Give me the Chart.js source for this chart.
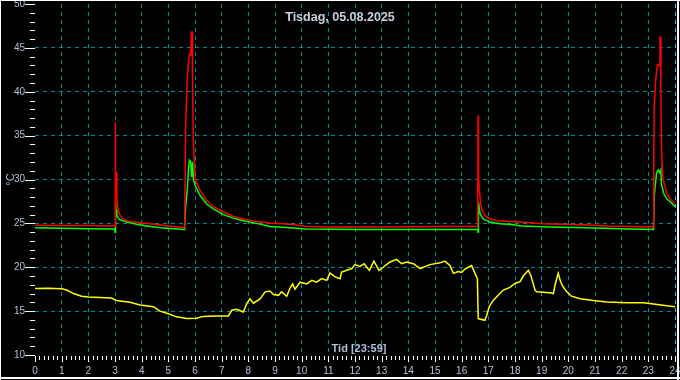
<!DOCTYPE html>
<html>
<head>
<meta charset="utf-8">
<script src="https://cdn.jsdelivr.net/npm/chart.js@4"></script>
<style>
  html, body { margin: 0; padding: 0; background: #000; }
  #wrap { width: 680px; height: 380px; position: relative; }
  canvas { display: block; }
</style>
</head>
<body>
<div id="wrap"><canvas id="c" width="680" height="380"></canvas></div>
<script>
// ---------- data ----------
const chartTitle = 'Tisdag, 05.08.2025';
const xAxisTitle = 'Tid [23:59]';
const yAxisTitle = '°C';
const xMin = 0, xMax = 24, xStep = 1;
const yMin = 10, yMax = 50, yStep = 5;

const redTime = [0, 1, 2, 2.99, 3.005, 3.012, 3.02, 3.05, 3.07, 3.12, 3.19, 3.31, 3.56, 3.94, 4.31, 4.81, 5.31, 5.61, 5.62, 5.65, 5.69, 5.71, 5.75, 5.79, 5.84, 5.865, 5.895, 5.91, 5.94, 5.97, 6.01, 6.19, 6.44, 6.69, 7.06, 7.44, 7.81, 8.31, 8.81, 9.56, 10.19, 11, 13, 15.2, 16.6, 16.615, 16.625, 16.64, 16.66, 16.71, 16.77, 16.87, 17.06, 17.31, 18.19, 19.06, 20.56, 21.44, 23.19, 23.205, 23.22, 23.27, 23.31, 23.35, 23.41, 23.435, 23.46, 23.47, 23.5, 23.53, 23.58, 23.69, 23.81, 24];
const redTemp = [24.8, 24.75, 24.75, 24.7, 24.7, 36.5, 30.8, 30.8, 28.0, 26.5, 25.9, 25.45, 25.2, 25.07, 24.97, 24.8, 24.6, 24.5, 26.6, 36.2, 39.9, 41.4, 43.1, 44.3, 44.2, 46.8, 46.8, 40.5, 34.1, 32.2, 30.0, 28.75, 27.6, 26.9, 26.3, 25.8, 25.5, 25.2, 25.03, 24.9, 24.65, 24.6, 24.6, 24.65, 24.65, 37.3, 35.6, 30.5, 28.9, 27.2, 26.5, 25.9, 25.5, 25.3, 25.15, 24.97, 24.85, 24.7, 24.6, 33.7, 38.3, 41.05, 42.45, 43.1, 42.95, 46.2, 46.2, 39.7, 33.3, 30.7, 29.7, 28.4, 27.8, 27.2];

const greenTime = [0, 1, 2, 2.99, 3.0, 3.02, 3.04, 3.07, 3.16, 3.44, 3.81, 4.19, 4.69, 5.19, 5.61, 5.65, 5.71, 5.75, 5.79, 5.84, 5.87, 5.91, 5.94, 6.0, 6.19, 6.44, 6.69, 7.06, 7.44, 7.81, 8.31, 8.81, 9.56, 10.19, 12, 16.6, 16.615, 16.63, 16.69, 16.81, 17.06, 17.44, 17.87, 18.25, 19.31, 20.69, 21.94, 23.19, 23.22, 23.31, 23.37, 23.43, 23.47, 23.49, 23.58, 23.69, 23.81, 24];
const greenTemp = [24.5, 24.45, 24.4, 24.35, 24.0, 27.6, 26.5, 25.9, 25.45, 25.15, 24.9, 24.7, 24.5, 24.4, 24.3, 27.0, 28.75, 31.0, 32.2, 32.0, 30.3, 32.0, 30.0, 29.4, 28.2, 27.2, 26.65, 26.0, 25.6, 25.3, 25.0, 24.65, 24.5, 24.35, 24.3, 24.3, 24.0, 27.4, 26.1, 25.5, 25.15, 24.97, 24.86, 24.7, 24.6, 24.5, 24.4, 24.3, 28.0, 30.8, 31.1, 30.8, 31.1, 29.5, 28.4, 27.8, 27.5, 26.9];

const yellowTime = [0, 0.5, 1.0, 1.19, 1.44, 1.75, 2.0, 2.87, 3.06, 3.56, 3.94, 4.44, 4.69, 5.0, 5.31, 5.69, 6.06, 6.31, 6.81, 7.25, 7.38, 7.56, 7.81, 7.94, 8.06, 8.19, 8.44, 8.63, 8.81, 8.94, 9.13, 9.25, 9.44, 9.56, 9.66, 9.75, 9.94, 10.19, 10.38, 10.56, 10.75, 10.94, 11.06, 11.25, 11.44, 11.5, 11.69, 11.88, 12.0, 12.19, 12.34, 12.54, 12.71, 12.9, 13.06, 13.31, 13.56, 13.75, 13.94, 14.19, 14.44, 14.81, 15.19, 15.37, 15.56, 15.69, 15.87, 16.0, 16.12, 16.37, 16.5, 16.59, 16.62, 16.87, 16.94, 17.03, 17.19, 17.37, 17.56, 17.81, 18.0, 18.19, 18.31, 18.5, 18.59, 18.75, 18.81, 19.31, 19.44, 19.5, 19.62, 19.71, 19.81, 19.94, 20.12, 20.44, 20.94, 21.44, 22.19, 22.81, 23.19, 23.69, 24.0];
const yellowTemp = [17.58, 17.6, 17.55, 17.4, 17.0, 16.7, 16.6, 16.5, 16.2, 16.0, 15.7, 15.5, 15.0, 14.7, 14.35, 14.15, 14.2, 14.4, 14.45, 14.45, 15.1, 15.2, 14.9, 15.85, 16.4, 15.9, 16.4, 17.2, 17.3, 16.9, 16.8, 17.2, 16.7, 17.6, 18.1, 17.5, 18.3, 18.1, 18.5, 18.3, 18.7, 18.5, 19.35, 18.9, 18.7, 19.45, 19.65, 19.85, 20.3, 20.1, 20.4, 19.65, 20.7, 19.65, 20.0, 20.6, 20.9, 20.4, 20.6, 20.4, 19.85, 20.3, 20.5, 20.7, 20.2, 19.3, 19.5, 19.4, 19.8, 20.2, 19.3, 18.7, 14.15, 13.95, 14.5, 15.5, 16.25, 16.8, 17.4, 17.7, 18.15, 18.35, 19.0, 19.65, 19.1, 17.4, 17.2, 17.1, 17.0, 17.95, 19.3, 18.35, 17.75, 17.2, 16.7, 16.4, 16.2, 16.05, 15.95, 15.95, 15.8, 15.6, 15.5];

// ---------- styles ----------
const FONT = "'Liberation Sans', Arial, sans-serif";
const labelColor = '#b0c0d8';
const titleColor = '#c8d0dc';
const gridColor = '#008c8c';
const nowColor = '#00e5ee';

const toPoints = (ts, vs) => ts.map((t, i) => ({ x: t, y: vs[i] }));

const background = {
  id: 'background',
  beforeDraw(chart) {
    const c = chart.ctx;
    c.save();
    c.fillStyle = '#000';
    c.fillRect(0, 0, chart.width, chart.height);
    c.restore();
  }
};

const decorations = {
  id: 'decorations',
  afterDraw(chart) {
    const c = chart.ctx;
    const a = chart.chartArea;
    const xs = chart.scales.x, ys = chart.scales.y;
    c.save();
    // tick marks
    c.strokeStyle = '#ffffff';
    c.lineWidth = 1;
    c.beginPath();
    for (let v = yMin; v <= yMax; v += 1) {
      const py = Math.round(ys.getPixelForValue(v)) + 0.5;
      const len = (v % yStep === 0) ? 10 : 5;
      c.moveTo(a.left - len, py);
      c.lineTo(a.left, py);
    }
    for (let i = 0; i <= (xMax - xMin) * 6; i++) {
      const v = xMin + i / 6;
      const px = Math.round(xs.getPixelForValue(v)) + 0.5;
      const len = (i % 6 === 0) ? 6 : 4;
      c.moveTo(px, a.bottom + 1);
      c.lineTo(px, a.bottom + 1 + len);
    }
    c.stroke();
    // texts inside the plot
    c.fillStyle = titleColor;
    c.textAlign = 'center';
    c.textBaseline = 'alphabetic';
    c.font = 'bold 12.5px ' + FONT;
    c.fillText(chartTitle, chart.width / 2, 21);
    c.font = 'bold 11px ' + FONT;
    c.fillStyle = labelColor;
    c.fillText(xAxisTitle, (a.left + a.right) / 2 + 4, 352);
    // frame
    c.fillStyle = '#ffffff';
    c.fillRect(0, 0, chart.width, 1);
    c.fillRect(0, 0, 1, chart.height);
    c.fillRect(677, 0, 2, chart.height);
    c.fillRect(0, 377, chart.width, 2);
    c.restore();
  }
};

new Chart(document.getElementById('c'), {
  type: 'line',
  data: {
    datasets: [
      { data: toPoints(redTime, redTemp), borderColor: '#ff0000', borderWidth: 1.5 },
      { data: toPoints(greenTime, greenTemp), borderColor: '#00ff00', borderWidth: 1.5 },
      { data: toPoints(yellowTime, yellowTemp), borderColor: '#ffff00', borderWidth: 1.5 }
    ]
  },
  options: {
    responsive: false,
    animation: false,
    devicePixelRatio: 1,
    layout: { padding: { left: 0, right: 5, top: 4, bottom: 0 } },
    elements: { point: { radius: 0 }, line: { tension: 0, fill: false } },
    plugins: { legend: { display: false }, tooltip: { enabled: false }, title: { display: false } },
    scales: {
      x: {
        type: 'linear', min: xMin, max: xMax,
        ticks: { stepSize: xStep, autoSkip: false, maxRotation: 0, color: labelColor, padding: 10, font: { family: FONT, size: 10 } },
        grid: {
          drawTicks: false, lineWidth: 1,
          color: (ctx) => ctx.tick.value === xMin ? 'rgba(0,0,0,0)' : (ctx.tick.value === xMax ? nowColor : gridColor)
        },
        border: { display: false, dash: [4, 4] },
        afterFit: (s) => { s.height = 25; s.paddingLeft = 0; s.paddingRight = 0; }
      },
      y: {
        type: 'linear', min: yMin, max: yMax,
        ticks: { stepSize: yStep, color: labelColor, padding: 10, font: { family: FONT, size: 10 } },
        grid: {
          drawTicks: false, lineWidth: 1,
          color: (ctx) => (ctx.tick.value === yMin || ctx.tick.value === yMax) ? 'rgba(0,0,0,0)' : gridColor
        },
        border: { display: false, dash: [4, 4] },
        title: { display: true, text: yAxisTitle, color: labelColor, font: { family: FONT, size: 11 }, padding: { top: 4, bottom: 0 } },
        afterFit: (s) => { s.width = 35; s.paddingTop = 0; s.paddingBottom = 0; }
      }
    }
  },
  plugins: [background, decorations]
});
</script>
</body>
</html>
